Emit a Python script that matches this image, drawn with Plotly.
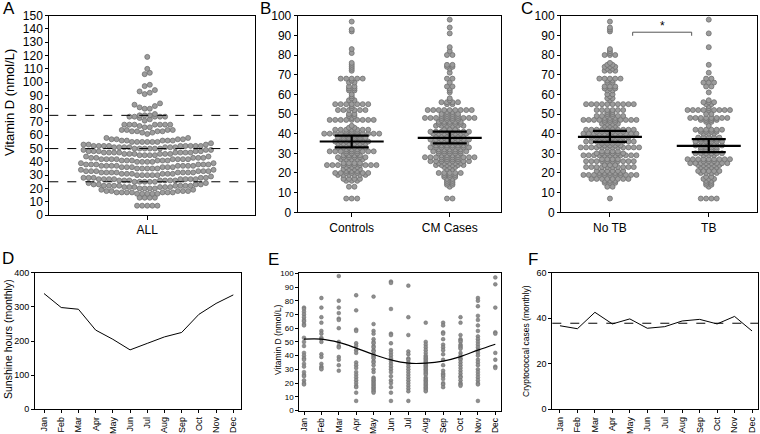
import numpy as np
import plotly.graph_objects as go

# ---------------- DATA ----------------
ALL_VALUES = [7,13,16,17,18,19,20,21,22,23,24,25,26,27,28,29,30,31,32,33,
              34,35,36,37,38,39,40,41,42,43,44,45,46,47,48,49,50,51,52,53,
              54,55,56,57,58,61,62,63,64,66,67,68,71,72,73,74,75,76,80,81,
              82,83,84,91,92,93,94,97,98,106,107,110,119]
ALL_COUNTS = [5,4,5,7,5,2,4,6,8,4,2,5,7,8,5,1,5,6,8,6,
              2,5,6,8,6,2,4,6,8,5,2,4,6,8,5,3,6,7,9,3,
              1,6,5,4,2,1,2,4,4,2,1,7,1,1,1,5,3,1,2,1,
              1,1,1,1,1,1,1,1,1,1,1,1,1]
CONTROLS_VALUES = [7,13,16,17,19,20,21,22,23,24,25,27,28,29,30,31,32,33,34,35,
                   36,37,38,39,40,41,42,43,44,47,48,49,50,52,53,54,55,57,58,59,
                   60,62,63,64,66,67,68,72,73,74,75,76,81,83,92,93,97]
CONTROLS_COUNTS = [3,2,3,4,6,7,3,4,3,10,4,5,6,4,3,9,3,6,5,6,
                   7,4,6,4,11,3,7,2,1,9,1,2,2,6,1,1,7,2,1,1,
                   1,2,2,2,2,1,5,1,1,1,1,1,1,1,1,1,1]
CM_VALUES = [7,13,14,15,16,17,18,19,20,22,23,24,25,26,27,28,29,30,31,32,
             33,34,35,36,37,38,39,40,41,42,44,45,46,47,48,49,50,51,52,55,
             56,57,58,61,62,63,64,66,68,71,73,74,75,80,82,84,91,94,98]
CM_COUNTS = [2,1,2,2,2,2,3,3,5,2,3,6,5,8,4,10,4,5,7,5,
             8,6,7,5,8,5,6,7,8,3,6,5,5,4,10,4,4,2,9,2,
             4,1,1,1,1,1,2,1,2,1,1,2,2,2,1,1,1,1,1]
NOTB_VALUES = [7,13,15,16,17,19,20,21,23,24,26,27,29,30,31,33,34,35,36,37,
               38,39,40,41,42,44,45,46,47,48,49,50,51,52,55,57,58,59,60,62,
               63,64,66,67,68,72,73,74,75,76,80,81,82,83,92,93,94,97]
NOTB_COUNTS = [1,2,3,3,8,11,5,6,10,3,10,4,11,6,4,12,5,4,10,5,
               8,10,11,6,10,3,4,3,11,3,6,2,2,6,10,1,2,1,2,2,
               3,3,2,2,5,3,2,3,2,1,3,1,1,1,1,1,1,1]
TB_VALUES = [7,13,14,15,16,17,18,20,21,23,24,25,26,27,29,30,31,32,33,34,
             35,36,37,38,40,41,42,44,46,47,48,50,52,53,54,55,56,57,61,64,
             66,68,71,75,84,91,98]
TB_COUNTS = [4,1,2,2,2,3,2,4,5,4,5,8,3,9,3,6,3,4,4,6,
             3,6,4,5,3,4,6,1,2,4,8,2,9,1,1,2,3,1,1,2,
             3,2,1,1,1,1,1]

GROUPS_B = ["Controls", "CM Cases"]
GROUPS_C = ["No TB", "TB"]
MEDIAN_B = [36.0, 37.9]
CI_LOW_B = [33.0, 35.1]
CI_HIGH_B = [39.0, 41.0]
MEDIAN_C = [38.4, 33.8]
CI_LOW_C = [35.8, 30.6]
CI_HIGH_C = [41.4, 37.2]
THRESHOLDS_A = [25, 50, 75]

MONTHS = ["Jan","Feb","Mar","Apr","May","Jun","Jul","Aug","Sep","Oct","Nov","Dec"]
SUNSHINE = [339, 298, 293, 232, 205, 174, 193, 212, 225, 278, 310, 335]
CRYPTO_CASES = [36.7, 35.4, 42.6, 37.5, 39.7, 35.6, 36.3, 38.8, 39.5, 37.5, 40.8, 34.4]
CRYPTO_MEAN = 37.8
VITD_FIT = [52, 52, 49.6, 45.5, 40.8, 36.9, 34.5, 34.5, 36.0, 39.3, 44.0, 48.3]
VITD_JAN = [75,74,72,70,68,66,65,63,62,53,50,47,42,40,38,37,34,32,28,26,25,22,20,19]
VITD_FEB = [82,75,68,64,58,56,53,52,50,41,39,34,32,31,30]
VITD_MAR = [98,80,75,71,67,66,60,50,47,46,39,37,33,29]
VITD_APR = [84,73,59,58,49,47,44,42,35,33,31,28,26,24,22,20,18,17,13,7]
VITD_MAY = [83,63,58,56,52,50,49,47,46,44,43,41,40,39,38,36,35,33,30,28,24,23,22,21,20,19,18,17,16,15,14,13]
VITD_JUN = [94,93,74,56,55,49,44,42,40,38,36,34,32,30,28,25,22,20,17,13,7]
VITD_JUL = [91,68,55,43,41,38,37,35,34,32,30,28,26,24,22,20,18,16,14,7]
VITD_AUG = [64,50,48,46,44,42,40,39,38,37,36,35,34,33,32,31,30,29,28,27,26,24,23,22,21,20,19,18,17,16,15,14]
VITD_SEP = [64,62,57,56,52,48,46,44,41,37,33,29,27,26,25,23,20,19,17]
VITD_OCT = [68,64,55,52,51,50,48,47,46,45,42,40,38,37,35,33,31,29,27,25,24,22,20,19,18]
VITD_NOV = [82,80,76,69,66,62,58,54,52,50,48,46,44,42,40,37,35,33,30,28,26,24,22,20,19,7]
VITD_DEC = [97,92,75,57,56,42,37,32,31]
VITD_BY_MONTH = [VITD_JAN, VITD_FEB, VITD_MAR, VITD_APR, VITD_MAY, VITD_JUN,
                 VITD_JUL, VITD_AUG, VITD_SEP, VITD_OCT, VITD_NOV, VITD_DEC]

# ---------------- LAYOUT HELPERS ----------------
W, H = 760, 434
FONT = "Liberation Sans, Arial, sans-serif"
def fx(px): return px / W
def fy(py): return 1 - py / H

BOX = {  # left, right, top, bottom in pixels
    "A": (49.3, 255.0, 15.7, 215.0),
    "B": (297.7, 500.7, 15.7, 212.3),
    "C": (561.0, 756.7, 15.7, 212.3),
    "D": (35.0, 240.7, 272.7, 409.3),
    "E": (299.3, 500.7, 273.3, 410.5),
    "F": (552.3, 758.3, 272.7, 409.3),
}
XR = {"A": [-1.0, 1.1], "B": [-0.551, 1.52], "C": [-0.495, 1.485],
      "D": [-0.523, 11.43], "E": [-0.27, 11.31], "F": [-0.44, 11.36]}
YR = {"A": [0, 150], "B": [0, 100], "C": [0, 100], "D": [0, 400], "E": [0, 100], "F": [0, 60]}
AX = {"A": "", "B": "2", "C": "3", "D": "4", "E": "5", "F": "6"}

def pxu(p):
    l, r, t, b = BOX[p]
    return (r - l) / (XR[p][1] - XR[p][0])

def expand(values, counts):
    return np.repeat(np.asarray(values, float), np.asarray(counts, int))

def swarm(vals, bin_units, spacing_px, max_width_px, px_per_unit):
    vals = np.asarray(vals, float)
    keys = np.floor(vals / bin_units + 1e-9).astype(int)
    offs = np.zeros(len(vals))
    for k in np.unique(keys):
        idx = np.where(keys == k)[0]
        idx = idx[np.argsort(vals[idx], kind="stable")]
        n = len(idx)
        s = spacing_px
        if n > 1 and (n - 1) * s > max_width_px:
            s = max_width_px / (n - 1)
        pos = (np.arange(n) - (n - 1) / 2) * s
        order = np.argsort(np.abs(pos) + 1e-6 * np.arange(n), kind="stable")
        offs[idx] = pos[order]
    return offs / px_per_unit

fig = go.Figure()
DOT = dict(size=5.0, color="#9c9c9c", line=dict(color="#707070", width=0.8))

# Panel A
allv = expand(ALL_VALUES, ALL_COUNTS)
xa = 0 + swarm(allv, 5.0, 5.1, 135, pxu("A"))
fig.add_trace(go.Scatter(x=xa, y=allv, mode="markers", marker=DOT, xaxis="x", yaxis="y",
                         showlegend=False, hoverinfo="skip"))

# Panel B
ctrl = expand(CONTROLS_VALUES, CONTROLS_COUNTS)
cm = expand(CM_VALUES, CM_COUNTS)
for i, v in enumerate([ctrl, cm]):
    xb = i + swarm(v, 1.0, 5.5, 70, pxu("B"))
    fig.add_trace(go.Scatter(x=xb, y=v, mode="markers", marker=DOT, xaxis="x2", yaxis="y2",
                             showlegend=False, hoverinfo="skip"))
# Panel C
notb = expand(NOTB_VALUES, NOTB_COUNTS)
tb = expand(TB_VALUES, TB_COUNTS)
for i, v in enumerate([notb, tb]):
    xc = i + swarm(v, 1.0, 5.3, 70, pxu("C"))
    fig.add_trace(go.Scatter(x=xc, y=v, mode="markers", marker=DOT, xaxis="x3", yaxis="y3",
                             showlegend=False, hoverinfo="skip"))

shapes = []
def add_median(p, i, med, lo, hi):
    xr = "x" + AX[p]; yr = "y" + AX[p]
    wm = 32 / pxu(p); wc = 17 / pxu(p)
    ln = dict(color="black", width=2.2)
    shapes.append(dict(type="line", xref=xr, yref=yr, x0=i - wm, x1=i + wm, y0=med, y1=med, line=ln))
    shapes.append(dict(type="line", xref=xr, yref=yr, x0=i - wc, x1=i + wc, y0=lo, y1=lo, line=ln))
    shapes.append(dict(type="line", xref=xr, yref=yr, x0=i - wc, x1=i + wc, y0=hi, y1=hi, line=ln))
    shapes.append(dict(type="line", xref=xr, yref=yr, x0=i, x1=i, y0=lo, y1=hi, line=ln))

for i in range(2):
    add_median("B", i, MEDIAN_B[i], CI_LOW_B[i], CI_HIGH_B[i])
    add_median("C", i, MEDIAN_C[i], CI_LOW_C[i], CI_HIGH_C[i])

for t in THRESHOLDS_A:
    shapes.append(dict(type="line", xref="x domain", yref="y", x0=0, x1=1, y0=t, y1=t,
                       line=dict(color="black", width=1, dash="dash")))
# significance bracket in C
br = dict(color="#555555", width=1)
shapes.append(dict(type="line", xref="x3", yref="y3", x0=0.23, x1=0.827, y0=91.6, y1=91.6, line=br))
shapes.append(dict(type="line", xref="x3", yref="y3", x0=0.23, x1=0.23, y0=91.6, y1=89.8, line=br))
shapes.append(dict(type="line", xref="x3", yref="y3", x0=0.827, x1=0.827, y0=91.6, y1=89.8, line=br))

# Panel D
mi = list(range(12))
fig.add_trace(go.Scatter(x=mi, y=SUNSHINE, mode="lines", line=dict(color="black", width=1),
                         xaxis="x4", yaxis="y4", showlegend=False, hoverinfo="skip"))
# Panel E
ex, ey = [], []
for m, vals in enumerate(VITD_BY_MONTH):
    ex += [m] * len(vals); ey += vals
fig.add_trace(go.Scatter(x=ex, y=ey, mode="markers",
                         marker=dict(size=3.8, color="#8e8e8e", line=dict(color="#6a6a6a", width=0.5)),
                         xaxis="x5", yaxis="y5", showlegend=False, hoverinfo="skip"))
fig.add_trace(go.Scatter(x=mi, y=VITD_FIT, mode="lines", line=dict(color="black", width=1.2, shape="spline"),
                         xaxis="x5", yaxis="y5", showlegend=False, hoverinfo="skip"))
# Panel F
fig.add_trace(go.Scatter(x=mi, y=CRYPTO_CASES, mode="lines", line=dict(color="black", width=1),
                         xaxis="x6", yaxis="y6", showlegend=False, hoverinfo="skip"))
shapes.append(dict(type="line", xref="x6 domain", yref="y6", x0=0, x1=1, y0=CRYPTO_MEAN, y1=CRYPTO_MEAN,
                   line=dict(color="black", width=1, dash="dash")))

def xaxis(p, tickvals, ticktext, size, angle=0, tl=4):
    l, r, t, b = BOX[p]
    return dict(domain=[fx(l), fx(r)], range=XR[p], anchor="y" + AX[p], automargin=False,
                tickmode="array", tickvals=tickvals, ticktext=ticktext, tickangle=angle,
                showline=True, linecolor="black", linewidth=1, mirror=True,
                ticks="outside", ticklen=tl, tickcolor="black", tickwidth=1,
                tickfont=dict(family=FONT, size=size, color="black"),
                showgrid=False, zeroline=False, fixedrange=True)

def yaxis(p, dtick, size, tl=3):
    l, r, t, b = BOX[p]
    return dict(domain=[fy(b), fy(t)], range=YR[p], anchor="x" + AX[p], automargin=False,
                tickmode="linear", tick0=0, dtick=dtick,
                showline=True, linecolor="black", linewidth=1, mirror=True,
                ticks="outside", ticklen=tl, tickcolor="black", tickwidth=1,
                tickfont=dict(family=FONT, size=size, color="black"),
                showgrid=False, zeroline=False, fixedrange=True)

layout = dict(width=W, height=H, margin=dict(l=0, r=0, t=0, b=0, autoexpand=False),
              paper_bgcolor="white", plot_bgcolor="white", showlegend=False,
              font=dict(family=FONT, color="black"), shapes=shapes)
layout["xaxis"] = xaxis("A", [0], ["ALL"], 12)
layout["yaxis"] = yaxis("A", 10, 12)
layout["xaxis2"] = xaxis("B", [0, 1], GROUPS_B, 12)
layout["yaxis2"] = yaxis("B", 10, 12)
layout["xaxis3"] = xaxis("C", [0, 1], GROUPS_C, 12)
layout["yaxis3"] = yaxis("C", 10, 12)
layout["xaxis4"] = xaxis("D", mi, MONTHS, 9, -90, 3)
layout["yaxis4"] = yaxis("D", 100, 9)
layout["xaxis5"] = xaxis("E", mi, MONTHS, 8.5, -90, 3)
layout["yaxis5"] = yaxis("E", 10, 8)
layout["xaxis6"] = xaxis("F", mi, MONTHS, 9, -90, 3)
layout["yaxis6"] = yaxis("F", 20, 9)

ann = []
def label(text, px, py, size, angle=0):
    ann.append(dict(text=text, x=fx(px), y=fy(py), xref="paper", yref="paper", showarrow=False,
                    textangle=angle, font=dict(family=FONT, size=size, color="black"),
                    xanchor="center", yanchor="middle"))
label("A", 9, 9, 17); label("B", 265, 9, 17); label("C", 527, 9, 17)
label("D", 8, 258, 17); label("E", 273, 259, 17); label("F", 533, 259, 17)
label("Vitamin D (nmol/L)", 9, 103, 13, -90)
label("Sunshine hours (monthly)", 8, 339, 10.5, -90)
label("Vitamin D (nmol/L)", 278, 340, 8.5, -90)
label("Cryptococcal cases (monthly)", 526, 341, 8.5, -90)
ann.append(dict(text="*", x=0.536, y=94.6, xref="x3", yref="y3", showarrow=False,
                font=dict(family=FONT, size=12, color="black"), xanchor="center", yanchor="middle"))
layout["annotations"] = ann

fig.update_layout(**layout)
fig.write_html("out.html", config={"displayModeBar": False, "staticPlot": True},
               post_script="document.body.style.margin='0px';document.body.style.padding='0px';"
                           "document.body.style.overflow='hidden';")
